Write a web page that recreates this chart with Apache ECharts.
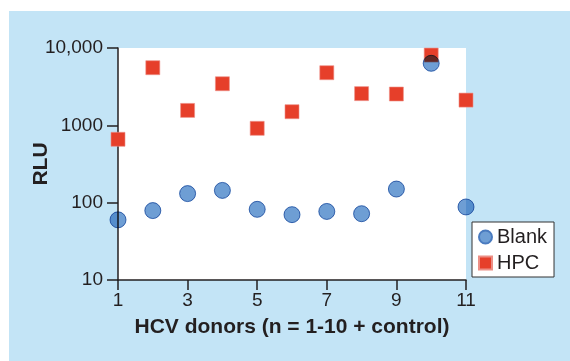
<!DOCTYPE html>
<html>
<head>
<meta charset="utf-8">
<script src="https://cdn.jsdelivr.net/npm/echarts@6/dist/echarts.min.js"></script>
<style>
  html, body { margin: 0; padding: 0; background: #fff; }
  #chart { width: 570px; height: 361px; }
</style>
</head>
<body>
<div id="chart"></div>
<script>
// donor index (1-10 donors, 11 = control)
const donors = [1, 2, 3, 4, 5, 6, 7, 8, 9, 10, 11];
const blank = [60, 79, 131, 144, 82, 70, 77, 72, 150, 6340, 88];
const hpc = [660, 5560, 1560, 3450, 915, 1500, 4790, 2570, 2540, 8110, 2120];
const xTicks = [1, 3, 5, 7, 9, 11];
const yTicks = [10, 100, 1000, 10000];

const font = 'Liberation Sans, Arial, sans-serif';
const ink = '#231f20';

const chart = echarts.init(document.getElementById('chart'));
const option = {
  backgroundColor: '#fff',
  animation: false,
  textStyle: { fontFamily: font },
  graphic: [
    {
      type: 'rect',
      z: -10,
      shape: { x: 9, y: 11, width: 561, height: 350 },
      style: { fill: '#c3e4f6' },
    },
  ],
  grid: {
    left: 118,
    top: 48,
    right: 104,
    bottom: 81,
    show: true,
    backgroundColor: '#fff',
    borderWidth: 0,
  },
  legend: {
    left: 472,
    top: 222,
    orient: 'vertical',
    backgroundColor: '#fff',
    borderColor: '#333',
    borderWidth: 1,
    borderRadius: 0,
    padding: [5, 7, 4, 6],
    itemGap: 6,
    itemWidth: 13,
    itemHeight: 13,
    textStyle: { fontSize: 20, color: ink, fontFamily: font, padding: [0, 0, 0, 0] },
    data: [
      { name: 'Blank', icon: 'circle' },
      { name: 'HPC', icon: 'rect' },
    ],
  },
  xAxis: {
    type: 'value',
    min: 1,
    max: 11,
    interval: 2,
    name: 'HCV donors (n = 1-10 + control)',
    nameLocation: 'middle',
    nameGap: 37,
    nameMoveOverlap: false,
    nameTextStyle: { fontSize: 21, fontWeight: 'bold', color: ink, fontFamily: font },
    axisLine: { lineStyle: { color: ink, width: 1.5 } },
    axisTick: { length: 10, lineStyle: { color: ink, width: 1.5 } },
    axisLabel: {
      fontSize: 19,
      color: ink,
      margin: 11,
      formatter: (v) => (xTicks.includes(v) ? String(v) : ''),
    },
    splitLine: { show: false },
  },
  yAxis: {
    type: 'log',
    logBase: 10,
    min: 10,
    max: 10000,
    name: 'RLU',
    nameLocation: 'middle',
    nameGap: 66,
    nameMoveOverlap: false,
    nameTextStyle: { fontSize: 21, fontWeight: 'bold', color: ink, fontFamily: font },
    axisLine: { lineStyle: { color: ink, width: 1.5 } },
    axisTick: { length: 11, lineStyle: { color: ink, width: 1.5 } },
    axisLabel: {
      fontSize: 19,
      color: ink,
      margin: 15,
      formatter: (v) => (yTicks.includes(v) ? (v === 10000 ? '10,000' : String(v)) : ''),
    },
    splitLine: { show: false },
  },
  series: [
    {
      name: 'HPC',
      type: 'scatter',
      symbol: 'rect',
      symbolSize: 14,
      clip: false,
      z: 3,
      itemStyle: { color: '#e63f2a', borderColor: '#ec8f86', borderWidth: 0.6, opacity: 1 },
      data: donors.map((d, i) => [d, hpc[i]]),
    },
    {
      name: 'Blank',
      type: 'scatter',
      symbol: 'circle',
      symbolSize: 16,
      clip: false,
      z: 4,
      blendMode: 'multiply',
      itemStyle: { color: '#6e9ed4', borderColor: '#4a7bbf', borderWidth: 1, opacity: 1 },
      data: donors.map((d, i) => [d, blank[i]]),
    },
  ],
};
chart.setOption(option);
</script>
</body>
</html>
